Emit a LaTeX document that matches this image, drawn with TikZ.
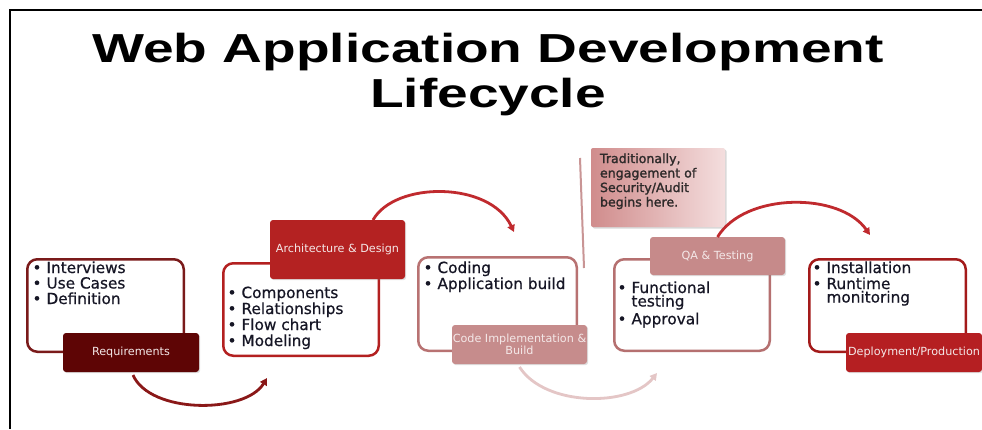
\documentclass[tikz,border=0pt]{standalone}
\usepackage{fontspec}
\setmainfont{DejaVu Sans}
\newfontfamily\titlefont{Liberation Sans}
\newfontfamily\bodyfont{DejaVu Sans}[FakeBold=0.6]
\newfontfamily\notefont{DejaVu Sans}[FakeBold=1.6]
\usetikzlibrary{arrows.meta,shadows}
\definecolor{reqfill}{HTML}{5E0505}
\definecolor{reqline}{HTML}{7A1A1A}
\definecolor{archfill}{HTML}{B42222}
\definecolor{archline}{HTML}{B32020}
\definecolor{codefill}{HTML}{C68C8C}
\definecolor{codeline}{HTML}{B87272}
\definecolor{qafill}{HTML}{C68A8A}
\definecolor{qaline}{HTML}{B57070}
\definecolor{depfill}{HTML}{B51F22}
\definecolor{depline}{HTML}{A31A1A}
\definecolor{notedark}{HTML}{D08C8C}
\definecolor{notelight}{HTML}{F4DEDE}
\definecolor{arrowdark}{HTML}{8A1818}
\definecolor{arrowred}{HTML}{C02A2E}
\definecolor{arrowpale}{HTML}{E4C6C6}
\definecolor{vline}{HTML}{C99595}
\definecolor{textdark}{HTML}{161625}
\definecolor{notetextc}{HTML}{2E2A2A}
\definecolor{labeltext}{HTML}{F4E8E8}
\newcommand\mybul{\makebox[14pt][l]{\textbullet}}
\newcommand\myind{\hspace*{14pt}}
\newcommand\tightlines{\lineskiplimit=-20pt\relax}
\begin{document}
\begin{tikzpicture}[x=1pt,y=-1pt,
  outline/.style={draw, line width=2.5pt, rounded corners=10pt, fill=white, inner sep=0pt, outer sep=0pt},
  lbl/.style={rounded corners=3pt, inner sep=0pt, outer sep=0pt, text=labeltext, align=center,
    font=\fontsize{11.2}{10.5}\selectfont,
    drop shadow={opacity=0.25, shadow xshift=1.2pt, shadow yshift=-1.2pt}},
  bullets/.style={anchor=north west, inner sep=0pt, outer sep=0pt, text=textdark, align=left},
  flow/.style={line width=2.8pt, -{Triangle[length=7pt,width=7.5pt]}},
]
\useasboundingbox (0,0) rectangle (982,429);
\fill[white] (0,0) rectangle (982,429);
% frame
\coordinate (ftl) at (10,10);
\coordinate (ftr) at (982,10);
\coordinate (fbl) at (10,429);
\draw[line width=2.3pt, black] (ftr) -- (ftl) -- (fbl);

% title
\node[font=\titlefont\bfseries\fontsize{40.5}{45}\selectfont, anchor=base, inner sep=0pt] (title1) at (488,62) {\scalebox{1.36}[1]{Web Application Development}};
\node[font=\titlefont\bfseries\fontsize{40.5}{45}\selectfont, anchor=base, inner sep=0pt] (title2) at (488,107) {\scalebox{1.36}[1]{Lifecycle}};

% outlines
\node[outline, draw=reqline, minimum width=156.5pt, minimum height=92.5pt] (reqbox) at (105.5,305.5) {};
\node[outline, draw=archline, minimum width=155.5pt, minimum height=92.5pt] (archbox) at (301,309.5) {};
\node[outline, draw=codeline, minimum width=158.5pt, minimum height=93.5pt] (codebox) at (497.5,304) {};
\node[outline, draw=qaline, minimum width=155.5pt, minimum height=91.5pt] (qabox) at (692,305) {};
\node[outline, draw=depline, minimum width=156.5pt, minimum height=92.5pt] (depbox) at (887.5,305.5) {};

% vertical line and note
\coordinate (vtop) at (580,158);
\coordinate (vbot) at (584,268);
\draw[vline, line width=2pt] (vtop) -- (vbot);
\node[rounded corners=2pt, left color=notedark, right color=notelight, minimum width=134pt, minimum height=79pt, inner sep=0pt,
  drop shadow={opacity=0.3, shadow xshift=1.5pt, shadow yshift=-1.5pt}] (note) at (658,187.5) {};
\node[bullets, text=notetextc, font=\notefont\fontsize{12.6}{14.5}\selectfont] (notetext) at (600,153)
  {\tightlines\rule{0pt}{10pt}Traditionally,\\engagement of\\Security/Audit\\begins here.};

% labels
\node[lbl, fill=reqfill, minimum width=136pt, minimum height=39pt] (reqlbl) at (131,352.5) {Requirements};
\node[lbl, fill=archfill, minimum width=135pt, minimum height=59pt] (archlbl) at (337.5,249.5) {Architecture \& Design};
\node[lbl, fill=codefill, minimum width=135pt, minimum height=39pt] (codelbl) at (519.5,344.5) {\tightlines Code Implementation \&\\Build};
\node[lbl, fill=qafill, minimum width=135pt, minimum height=38pt] (qalbl) at (717.5,256) {QA \& Testing};
\node[lbl, fill=depfill, minimum width=136pt, minimum height=39pt] (deplbl) at (914,352.5) {Deployment/Production};

% bullet lists
\node[bullets, font=\bodyfont\fontsize{15.3}{15.5}\selectfont] (reqlist) at (32.5,261)
  {\tightlines\rule{0pt}{12pt}\mybul Interviews\\\mybul Use Cases\\\mybul Definition};
\node[bullets, font=\bodyfont\fontsize{15.3}{16}\selectfont] (archlist) at (227.5,286)
  {\tightlines\rule{0pt}{12pt}\mybul Components\\\mybul Relationships\\\mybul Flow chart\\\mybul Modeling};
\node[bullets, font=\bodyfont\fontsize{15.3}{16}\selectfont] (codelist) at (423.5,261)
  {\tightlines\rule{0pt}{12pt}\mybul Coding\\\mybul Application build};
\node[bullets, font=\bodyfont\fontsize{15.3}{13.5}\selectfont] (qalist) at (617.5,281)
  {\tightlines\rule{0pt}{12pt}\mybul Functional\\\myind testing\\[2pt]\mybul Approval};
\node[bullets, font=\bodyfont\fontsize{15.3}{13.5}\selectfont] (deplist) at (812.5,261)
  {\tightlines\rule{0pt}{12pt}\mybul Installation\\[2.5pt]\mybul Runtime\\\myind monitoring};

% flow arrows
\coordinate (e1) at (267,378);
\coordinate (e2) at (514,232);
\coordinate (e3) at (657,373);
\coordinate (e4) at (870,235);
\draw[flow, arrowdark] ([xshift=2pt,yshift=-3pt]reqlbl.south) .. controls (150,414) and (245,414) .. (e1);
\draw[flow, arrowred] ([xshift=-32pt]archlbl.north east) .. controls (395,181) and (490,181) .. (e2);
\draw[flow, arrowpale] ([yshift=-3pt]codelbl.south) .. controls (545,407) and (630,407) .. (e3);
\draw[flow, arrowred] (qalbl.north) .. controls (745,192) and (840,192) .. (e4);
\end{tikzpicture}
\end{document}
